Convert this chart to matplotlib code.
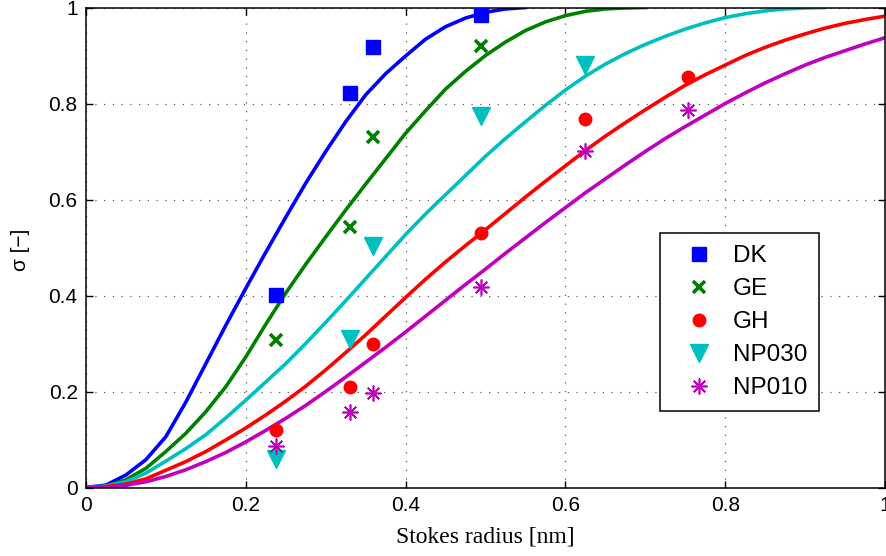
import numpy as np
import matplotlib
matplotlib.use("Agg")
import matplotlib.pyplot as plt

plt.rcParams['font.family'] = ['Liberation Sans', 'DejaVu Sans']

# fitted curves, every 0.025 nm
r_fit = [0.000, 0.025, 0.050, 0.075, 0.100, 0.125, 0.150, 0.175, 0.200, 0.225,
         0.250, 0.275, 0.300, 0.325, 0.350, 0.375, 0.400, 0.425, 0.450, 0.475,
         0.500, 0.525, 0.550, 0.575, 0.600, 0.625, 0.650, 0.675, 0.700, 0.725,
         0.750, 0.775, 0.800, 0.825, 0.850, 0.875, 0.900, 0.925, 0.950, 0.975, 1.000]
dk_fit = [0, 0.005, 0.026, 0.058, 0.106, 0.178, 0.258, 0.338, 0.415, 0.490,
          0.563, 0.634, 0.700, 0.762, 0.818, 0.862, 0.899, 0.934, 0.960, 0.978,
          0.990, 0.997, 1.0]
ge_fit = [0, 0.003, 0.016, 0.040, 0.075, 0.113, 0.158, 0.210, 0.272, 0.340,
          0.405, 0.465, 0.522, 0.578, 0.632, 0.685, 0.738, 0.785, 0.830, 0.867,
          0.900, 0.928, 0.952, 0.970, 0.983, 0.992, 0.997, 0.999, 1.0]
np030_fit = [0, 0.003, 0.012, 0.030, 0.055, 0.081, 0.110, 0.145, 0.182, 0.220,
             0.258, 0.300, 0.344, 0.389, 0.435, 0.481, 0.527, 0.570, 0.610, 0.650,
             0.690, 0.727, 0.762, 0.796, 0.828, 0.857, 0.882, 0.904, 0.923, 0.940,
             0.955, 0.968, 0.979, 0.987, 0.993, 0.997, 0.999, 1.0]
gh_fit = [0, 0.002, 0.007, 0.018, 0.036, 0.054, 0.075, 0.099, 0.124, 0.151,
          0.180, 0.211, 0.245, 0.281, 0.318, 0.357, 0.396, 0.434, 0.470, 0.504,
          0.537, 0.571, 0.605, 0.638, 0.670, 0.702, 0.732, 0.760, 0.787, 0.813,
          0.838, 0.860, 0.880, 0.900, 0.917, 0.932, 0.945, 0.957, 0.967, 0.975, 0.982]
np010_fit = [0, 0.001, 0.0045, 0.012, 0.023, 0.037, 0.054, 0.073, 0.095, 0.119,
             0.144, 0.171, 0.200, 0.230, 0.261, 0.292, 0.324, 0.357, 0.390, 0.423,
             0.455, 0.488, 0.520, 0.552, 0.583, 0.614, 0.643, 0.672, 0.700, 0.727,
             0.752, 0.776, 0.800, 0.822, 0.843, 0.862, 0.880, 0.896, 0.910, 0.924, 0.937]

# measured points
r_meas = [0.238, 0.330, 0.359, 0.494, 0.625, 0.753]
dk = [0.401, 0.821, 0.918, 0.984]
ge = [0.307, 0.542, 0.731, 0.919]
gh = [0.120, 0.210, 0.299, 0.530, 0.768, 0.856]
np030 = [0.059, 0.309, 0.504, 0.773, 0.881]
np010 = [0.086, 0.158, 0.196, 0.418, 0.702, 0.786]

c_dk = (0, 0, 1)
c_ge = (0, 0.5, 0)
c_gh = (1, 0, 0)
c_np030 = (0, 0.75, 0.75)
c_np010 = (0.75, 0, 0.75)

fig = plt.figure(figsize=(8.87, 5.56), dpi=100)
ax = fig.add_axes([86 / 887, 1 - 487.5 / 556, 799 / 887, 480 / 556])

lw = 2.6
ax.plot(r_fit[:len(dk_fit)], dk_fit, color=c_dk, lw=lw, zorder=2)
ax.plot(r_fit[:len(ge_fit)], ge_fit, color=c_ge, lw=lw, zorder=2)
ax.plot(r_fit[:len(np030_fit)], np030_fit, color=c_np030, lw=lw, zorder=2)
ax.plot(r_fit[:len(gh_fit)], gh_fit, color=c_gh, lw=lw, zorder=2)
ax.plot(r_fit[:len(np010_fit)], np010_fit, color=c_np010, lw=lw, zorder=2)

h1, = ax.plot(r_meas[:len(dk)], dk, 's', color=c_dk, ms=9.5, mec=c_dk, ls='none', zorder=3)
h2, = ax.plot(r_meas[:len(ge)], ge, 'x', color=c_ge, ms=8, mew=2.6, ls='none', zorder=3)
h3, = ax.plot(r_meas[:len(gh)], gh, 'o', color=c_gh, ms=9, mec=c_gh, ls='none', zorder=3)
h4, = ax.plot(r_meas[:len(np030)], np030, 'v', color=c_np030, ms=12.5, mec=c_np030,
              ls='none', zorder=3)
h5, = ax.plot(r_meas[:len(np010)], np010, marker=(8, 2, 0), color=c_np010, ms=11.5,
              mew=1.2, ls='none', zorder=3)

ax.set_xlim(0, 1)
ax.set_ylim(0, 1)
ticks = [0, 0.2, 0.4, 0.6, 0.8, 1]
tick_labels = ['0', '0.2', '0.4', '0.6', '0.8', '1']
ax.set_xticks(ticks)
ax.set_xticklabels(tick_labels)
ax.set_yticks(ticks)
ax.set_yticklabels(tick_labels)
ax.tick_params(direction='in', length=5, width=1, top=True, right=True,
               labelsize=15, pad=6)
ax.grid(True, color='0.35', linestyle=(0, (1, 6)), linewidth=0.9)
for s in ax.spines.values():
    s.set_linewidth(1.1)

fig.text(485 / 887, 1 - 537 / 556, 'Stokes radius [nm]', ha='center', va='center',
         fontsize=17, family=['Liberation Serif', 'DejaVu Serif'])
fig.text(21 / 887, 1 - 250 / 556, 'σ [−]', rotation=90, ha='center', va='center',
         fontsize=15)

leg = ax.legend([h1, h2, h3, h4, h5], ['DK', 'GE', 'GH', 'NP030', 'NP010'],
                loc='upper left', bbox_to_anchor=(0.718, 0.530), borderaxespad=0,
                fontsize=17.5, handlelength=2.2, handletextpad=0.3, labelspacing=0.45,
                borderpad=0.5, fancybox=False, framealpha=1, edgecolor='black',
                numpoints=1)
leg.get_frame().set_linewidth(1.1)

fig.savefig("out.png", dpi=100)
